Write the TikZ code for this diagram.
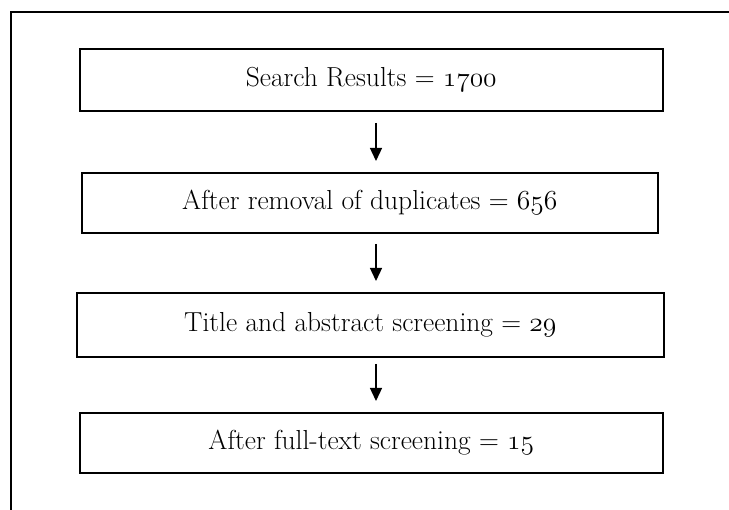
\RequirePackage{fix-cm}
\documentclass[tikz,border=0pt]{standalone}
\usepackage{fontspec}
\usepackage{tikz}
\usetikzlibrary{arrows.meta}
% old-style figures taken from the math italic font
\newcommand{\osfig}[1]{{\fontencoding{OML}\fontfamily{cmm}\fontseries{m}\fontshape{it}\selectfont #1}}
\newcommand{\boxfont}{\fontsize{27.5}{32}\selectfont}
\begin{document}
\begin{tikzpicture}[x=1pt,y=-1pt,
  stagebox/.style={draw,line width=1.6pt,inner sep=0pt,anchor=north west,font=\boxfont},
  flow/.style={-{Triangle[length=13pt,width=12pt]},line width=1.3pt}]
\useasboundingbox (0,0) rectangle (729,510);
% open frame: top and left edges only
\draw[line width=2pt] (729,12) -- (11,12) -- (11,510);
\node[stagebox,minimum width=583pt,minimum height=62pt] (s1) at (79,48)
  {Search Results = \osfig{1700}};
\node[stagebox,minimum width=576pt,minimum height=60pt] (s2) at (81,172)
  {After removal of duplicates = \osfig{656}};
\node[stagebox,minimum width=587pt,minimum height=64pt] (s3) at (76,292)
  {Title and abstract screening = \osfig{29}};
\node[stagebox,minimum width=583pt,minimum height=60pt] (s4) at (79,412)
  {After full-text screening = \osfig{15}};
\coordinate (a1s) at (376,123); \coordinate (a1e) at (376,161);
\coordinate (a2s) at (376,244); \coordinate (a2e) at (376,281);
\coordinate (a3s) at (376,364); \coordinate (a3e) at (376,401);
\draw[flow] (a1s) -- (a1e);
\draw[flow] (a2s) -- (a2e);
\draw[flow] (a3s) -- (a3e);
\end{tikzpicture}
\end{document}
